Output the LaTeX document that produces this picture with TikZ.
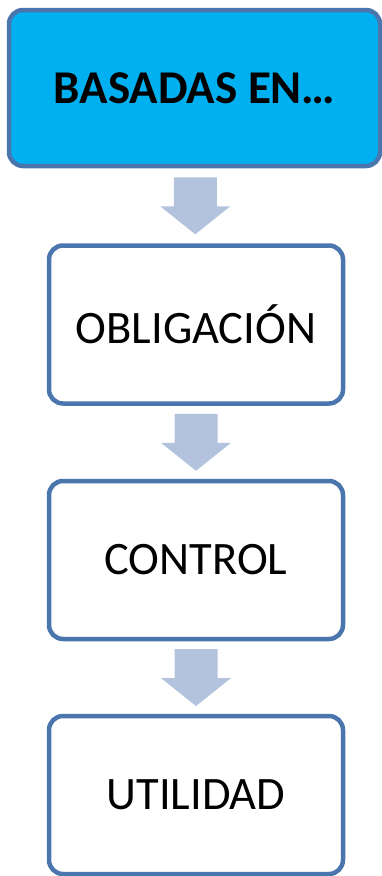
\documentclass[tikz,border=0pt]{standalone}
\usepackage{fontspec}
\setmainfont{Carlito}
\usetikzlibrary{calc}
\definecolor{edgeblue}{HTML}{4A76AD}
\definecolor{topfill}{HTML}{00B0F0}
\definecolor{arrowfill}{HTML}{B3C3DE}
\tikzset{
  boxstyle/.style={draw=edgeblue, line width=4.5pt, rounded corners=14pt, fill=white,
    minimum width=294pt, minimum height=158pt, inner sep=0pt,
    font=\fontsize{46.5}{50}\selectfont},
  topstyle/.style={boxstyle, fill=topfill, minimum width=371pt, minimum height=156pt,
    font=\fontsize{47}{52}\selectfont\bfseries},
  blockarrow/.style={fill=arrowfill, draw=none}
}
\newcommand\downblock[1]{%
  \path[blockarrow] ($(#1)+(-21.5,-28.5)$) -- ($(#1)+(21.5,-28.5)$) -- ($(#1)+(21.5,0.5)$)
    -- ($(#1)+(35,0.5)$) -- ($(#1)+(0,28.5)$) -- ($(#1)+(-35,0.5)$) -- ($(#1)+(-21.5,0.5)$) -- cycle;}
\begin{document}
\begin{tikzpicture}[x=1pt,y=-1pt]
\useasboundingbox (0,0) rectangle (382,876);
\node[topstyle] (top) at (194.5,88) {BASADAS EN…};
\node[boxstyle] (obl) at (196,324.5) {OBLIGACIÓN};
\node[boxstyle] (ctl) at (196,560) {CONTROL};
\node[boxstyle] (uti) at (196,795) {UTILIDAD};
\coordinate (m1) at ($(top.south)!0.5!(obl.north)$);
\coordinate (m2) at ($(obl.south)!0.5!(ctl.north)$);
\coordinate (m3) at ($(ctl.south)!0.5!(uti.north)$);
\downblock{m1}
\downblock{m2}
\downblock{m3}
\end{tikzpicture}
\end{document}
